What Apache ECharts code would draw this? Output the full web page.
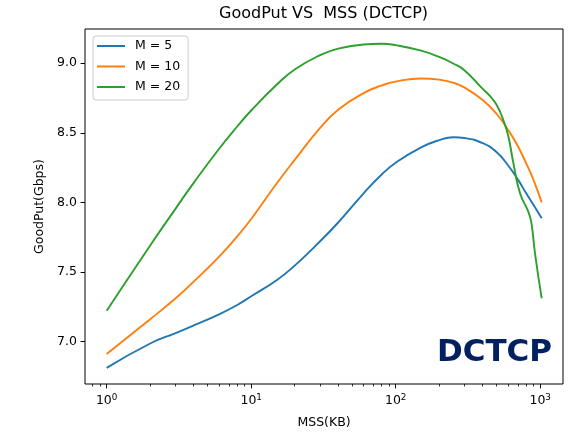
<!DOCTYPE html>
<html>
<head>
<meta charset="utf-8">
<script src="https://cdn.jsdelivr.net/npm/echarts@6/dist/echarts.min.js"></script>
<style>
  html, body { margin: 0; padding: 0; background: #fff; }
  #chart-main { width: 580px; height: 433px; }
</style>
</head>
<body>
<div id="chart-main"></div>
<script>
// MSS (KB) sample points
const mss = [1, 2, 3, 4, 6, 8, 10, 15, 20, 30, 40, 60, 80, 100, 150, 200, 250, 300, 400, 500, 600, 700, 800, 900, 1024];
const mss20 = [1, 2, 3, 4, 6, 8, 10, 15, 20, 30, 40, 60, 80, 100, 150, 200, 250, 300, 400, 450, 500, 550, 600, 650, 725, 830, 870, 920, 1024];

// GoodPut (Gbps)
const goodputM5 = [6.81, 6.985, 7.06, 7.115, 7.195, 7.262, 7.325, 7.44, 7.545, 7.72, 7.855, 8.065, 8.2, 8.285, 8.395, 8.447, 8.468, 8.462, 8.425, 8.36, 8.265, 8.165, 8.065, 7.98, 7.885];
const goodputM10 = [6.91, 7.16, 7.31, 7.43, 7.61, 7.755, 7.88, 8.135, 8.305, 8.535, 8.665, 8.785, 8.84, 8.868, 8.89, 8.882, 8.86, 8.825, 8.735, 8.635, 8.52, 8.405, 8.28, 8.16, 8.0];
const goodputM20 = [7.22, 7.69, 7.955, 8.14, 8.385, 8.545, 8.66, 8.845, 8.955, 9.058, 9.105, 9.135, 9.14, 9.13, 9.09, 9.045, 8.998, 8.948, 8.815, 8.763, 8.7, 8.603, 8.48, 8.29, 8.065, 7.93, 7.85, 7.635, 7.31];

const seriesNames = ['M = 5', 'M = 10', 'M = 20'];
const colors = ['#1f77b4', '#ff7f0e', '#2ca02c'];

// axis ticks
const xMajorTicks = [1, 10, 100, 1000];
const xMinorTicks = [0.8, 0.9, 2, 3, 4, 5, 6, 7, 8, 9, 20, 30, 40, 50, 60, 70, 80, 90, 200, 300, 400, 500, 600, 700, 800, 900];
const yTicks = [7.0, 7.5, 8.0, 8.5, 9.0];

const font = 'DejaVu Sans';

function pairs(xs, ys) {
  return xs.map((x, i) => [x, ys[i]]);
}

let chartIns = echarts.init(document.getElementById('chart-main'), null, { renderer: 'canvas' });

let lineSeries = [
  pairs(mss, goodputM5),
  pairs(mss, goodputM10),
  pairs(mss20, goodputM20),
].map((data, i) => ({
  name: seriesNames[i],
  type: 'line',
  data: data,
  xAxisIndex: 0,
  showSymbol: false,
  symbol: 'none',
  smooth: 0.5,
  lineStyle: { width: 1.9, color: colors[i] },
  itemStyle: { color: colors[i] },
}));

let option = {
  animation: false,
  backgroundColor: '#fff',
  title: {
    text: 'GoodPut VS  MSS (DCTCP)',
    left: 219,
    top: 6,
    padding: 0,
    textStyle: { fontFamily: font, fontSize: 16, fontWeight: 'normal', color: '#000' },
  },
  grid: {
    left: 85,
    right: 17,
    top: 29,
    bottom: 49,
    outerBoundsMode: 'none',
    show: true,
    borderColor: '#000',
    borderWidth: 1,
    backgroundColor: '#fff',
  },
  legend: {
    orient: 'vertical',
    left: 93,
    top: 36,
    padding: [3, 8, 6, 4],
    itemGap: 6.5,
    itemWidth: 28,
    itemHeight: 2,
    icon: 'rect',
    borderColor: '#ccc',
    borderWidth: 1,
    borderRadius: 3,
    backgroundColor: '#fff',
    data: seriesNames,
    textStyle: { fontFamily: font, fontSize: 12.5, color: '#000', lineHeight: 14, padding: [0, 0, 0, 5] },
  },
  xAxis: [
    {
      type: 'log',
      logBase: 10,
      min: 0.708,
      max: 1438,
      name: 'MSS(KB)',
      nameLocation: 'middle',
      nameGap: 32,
      nameTextStyle: { fontFamily: font, fontSize: 12.5, color: '#000' },
      axisLine: { show: false },
      splitLine: { show: false },
      axisTick: { show: true, length: 4.4, lineStyle: { color: '#000', width: 1 }, customValues: xMajorTicks },
      axisLabel: {
        customValues: xMajorTicks,
        margin: 9,
        formatter: v => '{b|10}{s|' + Math.round(Math.log10(v)) + '}',
        rich: {
          b: { fontFamily: font, fontSize: 12.5, color: '#000' },
          s: { fontFamily: font, fontSize: 8.8, color: '#000', padding: [0, 0, 7, 0] },
        },
      },
    },
    {
      // minor ticks only
      type: 'log',
      logBase: 10,
      min: 0.708,
      max: 1438,
      position: 'bottom',
      axisLine: { show: false },
      splitLine: { show: false },
      axisLabel: { show: false },
      axisTick: { show: true, length: 2.5, lineStyle: { color: '#000', width: 0.8 }, customValues: xMinorTicks },
    },
  ],
  yAxis: {
    type: 'value',
    min: 6.694,
    max: 9.246,
    name: 'GoodPut(Gbps)',
    nameLocation: 'middle',
    nameGap: 36,
    nameTextStyle: { fontFamily: font, fontSize: 12.5, color: '#000' },
    axisLine: { show: false },
    splitLine: { show: false },
    axisTick: { show: true, length: 4.4, lineStyle: { color: '#000', width: 1 }, customValues: yTicks },
    axisLabel: {
      customValues: yTicks,
      margin: 8,
      fontFamily: font,
      fontSize: 12.5,
      color: '#000',
      formatter: v => v.toFixed(1),
    },
  },
  graphic: [
    {
      type: 'text',
      z: 100,
      style: {
        text: 'DCTCP',
        x: 552,
        y: 353,
        align: 'right',
        verticalAlign: 'middle',
        fill: '#002060',
        font: 'bold 31px "DejaVu Sans"',
      },
    },
  ],
  series: lineSeries,
};

chartIns.setOption(option);
</script>
</body>
</html>
